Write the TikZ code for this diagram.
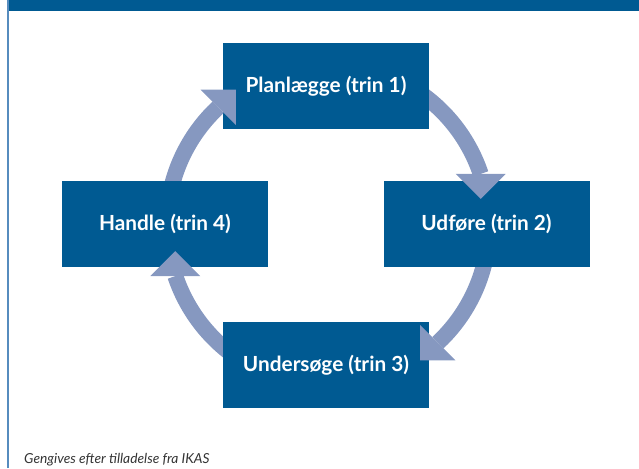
\documentclass[tikz,border=0pt]{standalone}
\usepackage{fontspec}
\setmainfont{Lato}
\usetikzlibrary{arrows.meta,calc}
\definecolor{boxblue}{RGB}{0,90,146}
\definecolor{arrowblue}{RGB}{134,152,192}
\definecolor{rimblue}{RGB}{86,140,190}
\tikzset{>={Triangle[width=50pt,length=25pt,line width=0pt]},every node/.style={font=\bfseries\fontsize{20.8}{24}\selectfont},
  trin/.style={fill=boxblue,text=white,minimum width=206pt,minimum height=86pt,inner sep=0pt},
  flow/.style={draw=arrowblue,line width=16pt,->}}

\begin{document}
\begin{tikzpicture}[x=1pt,y=1pt]
\useasboundingbox (0,0) rectangle (639,468);
\fill[boxblue] (7,457) rectangle (639,468);
\draw[rimblue,line width=2pt] (8,0)--(8,468);
\coordinate (c) at (328,243);
\node[trin] (plan) at (326,382) {Planlægge (trin 1)};
\node[trin] (udfore) at (486.5,244) {Udføre (trin 2)};
\node[trin] (undersoge) at (326,103) {Undersøge (trin 3)};
\node[trin] (handle) at (165,244) {Handle (trin 4)};
\begin{scope}[even odd rule]\clip (0,0) rectangle (639,468) (plan.south west) rectangle (plan.north east);
\draw[flow] ($(c)+(60:161)$) arc[start angle=60,end angle=18.5,radius=161] -- ++(0,-25);\end{scope}
\begin{scope}[even odd rule]\clip (0,0) rectangle (639,468) (udfore.south west) rectangle (udfore.north east);
\draw[flow] ($(c)+(-10:161)$) arc[start angle=-10,end angle=-47,radius=161] -- ++(225:25);\end{scope}
\begin{scope}[even odd rule]\clip (0,0) rectangle (639,468) (undersoge.south west) rectangle (undersoge.north east);
\draw[flow] ($(c)+(240:161)$) arc[start angle=240,end angle=198.5,radius=161] -- ++(0,25);\end{scope}
\begin{scope}[even odd rule]\clip (0,0) rectangle (639,468) (handle.south west) rectangle (handle.north east);
\draw[flow] ($(c)+(170:161)$) arc[start angle=170,end angle=133,radius=161] -- ++(45:25);\end{scope}
\node[font=\itshape\fontsize{13.8}{16}\selectfont,text=black!80,inner sep=0pt,anchor=base west] (kilde) at (24,5) {Gengives efter tilladelse fra IKAS};
\end{tikzpicture}
\end{document}
